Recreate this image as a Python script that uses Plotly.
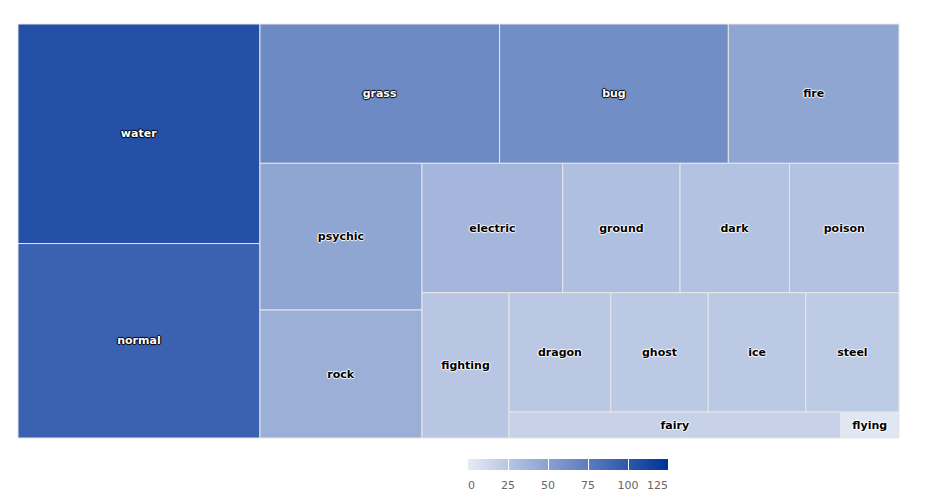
import plotly.graph_objects as go

# Pokémon count by primary type
types = ["water", "normal", "grass", "bug", "fire", "psychic", "rock", "electric",
         "ground", "dark", "poison", "fighting", "dragon", "ghost", "ice", "steel",
         "fairy", "flying"]
counts = [105, 93, 66, 63, 47, 47, 41, 36, 30, 28, 28, 25, 24, 23, 23, 22, 17, 3]
cbar_ticks = [0, 25, 50, 75, 100, 125]
# end labels are pulled inside the bar like in the original (nbsp padding)
cbar_labels = ["\u00a0\u00a00", "25", "50", "75", "100", "125" + "\u00a0" * 6]

MIN_COLOR = "#e6ebf5"
MAX_COLOR = "#003399"
SCALE = [[0, MIN_COLOR], [1, MAX_COLOR]]

# invisible groups that reproduce the alternating "squarified" strips
# (column, row, column, row, ...) of the original chart
groups = ["g_a", "rest1", "g_b", "rest2", "g_c", "rest3", "g_d", "rest4",
          "rest5", "g_f", "rest6"]
group_parent = ["", "", "rest1", "rest1", "rest2", "rest2", "rest3", "rest3",
                "rest4", "rest5", "rest5"]
type_parent = {
    "water": "g_a", "normal": "g_a",
    "grass": "g_b", "bug": "g_b", "fire": "g_b",
    "psychic": "g_c", "rock": "g_c",
    "electric": "g_d", "ground": "g_d", "dark": "g_d", "poison": "g_d",
    "fighting": "rest4",
    "dragon": "g_f", "ghost": "g_f", "ice": "g_f", "steel": "g_f",
    "fairy": "rest6", "flying": "rest6",
}

# order of nodes: parents declared before use, children in drawing order
order = ["g_a", "water", "normal", "rest1", "g_b", "grass", "bug", "fire",
         "rest2", "g_c", "psychic", "rock", "rest3", "g_d", "electric", "ground",
         "dark", "poison", "rest4", "fighting", "rest5", "g_f", "dragon", "ghost",
         "ice", "steel", "rest6", "fairy", "flying"]

ids, parents, values, texts, colors, lw = [], [], [], [], [], []
txt_color, shadows = [], []
for node in order:
    ids.append(node)
    if node in groups:
        parents.append(group_parent[groups.index(node)])
        values.append(0)
        texts.append("")
        colors.append(0)
        lw.append(0)
        txt_color.append("#000000")
        shadows.append("none")
    else:
        c = counts[types.index(node)]
        parents.append(type_parent[node])
        values.append(c)
        texts.append(node)
        colors.append(c)
        lw.append(1)
        # label contrast like the original: light text on dark cells
        fg = "#ffffff" if c > 50 else "#000000"
        o = "#000000" if c > 50 else "#ffffff"
        txt_color.append(fg)
        shadows.append(f"-1px 0 1px {o}, 1px 0 1px {o}, 0 -1px 1px {o}, 0 1px 1px {o}")

cbar_common = dict(
    orientation="h",
    x=0.6243, xanchor="center",
    y=-0.0507, yanchor="top",
    len=200, lenmode="pixels",
    thickness=11,
    xpad=0, ypad=0,
    outlinewidth=0,
    tickvals=cbar_ticks,
)

fig = go.Figure(go.Treemap(
    ids=ids,
    labels=ids,
    parents=parents,
    values=values,
    branchvalues="remainder",
    sort=False,
    text=texts,
    textinfo="text",
    textposition="middle center",
    textfont=dict(family="DejaVu Sans", size=11, weight="bold",
                  color=txt_color, shadow=shadows),
    tiling=dict(packing="slice-dice", pad=0),
    marker=dict(
        colors=colors,
        colorscale=SCALE,
        cmin=0, cmax=125,
        line=dict(color="#e6e6e6", width=lw),
        pad=dict(t=0, l=0, r=0, b=0),
        showscale=True,
        colorbar=dict(
            **cbar_common,
            ticktext=cbar_labels,
            ticks="outside", ticklen=6, tickcolor="rgba(0,0,0,0)",
            tickfont=dict(family="DejaVu Sans", size=11, color="#666666"),
        ),
    ),
    pathbar=dict(visible=False),
    root=dict(color="rgba(0,0,0,0)"),
    hovertemplate="%{text}: %{value}<extra></extra>",
))

# second, label-less copy of the colour bar to draw the white grid lines
fig.add_trace(go.Scatter(
    x=[None], y=[None], mode="markers", hoverinfo="skip", showlegend=False,
    marker=dict(
        color=[0], colorscale=SCALE, cmin=0, cmax=125, showscale=True,
        colorbar=dict(**cbar_common, ticks="inside", ticklen=11,
                      tickcolor="#ffffff", tickwidth=1, showticklabels=False),
    ),
))

fig.update_layout(
    width=920, height=495,
    margin=dict(l=10, r=29, t=16, b=65, autoexpand=False),
    paper_bgcolor="#ffffff",
    plot_bgcolor="#ffffff",
    xaxis=dict(visible=False),
    yaxis=dict(visible=False),
)

fig.write_html("out.html")
